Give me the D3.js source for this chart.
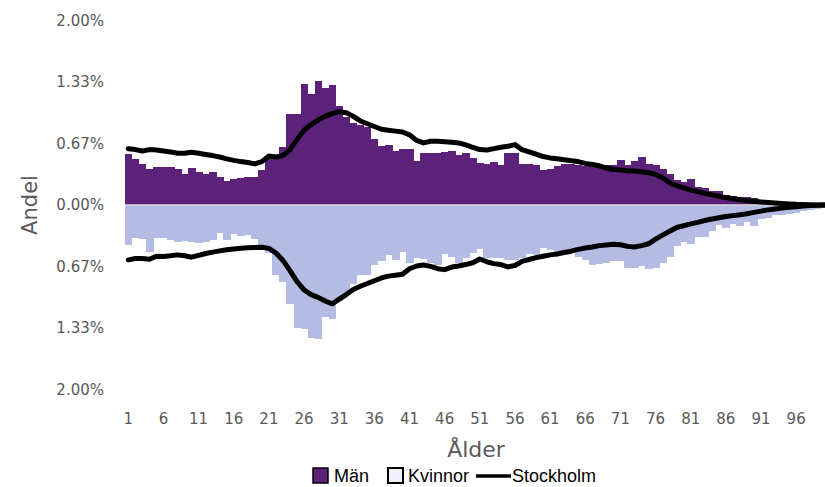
<!DOCTYPE html>
<html>
<head>
<meta charset="utf-8">
<script src="https://cdn.jsdelivr.net/npm/d3@7"></script>
<style>
  body { margin: 0; background: #fff; }
  svg { display: block; }
  .tick text { fill: #595959; font-family: "DejaVu Sans", sans-serif; font-size: 15px; }
</style>
</head>
<body>
<div id="chart"></div>
<script>
// ages 1..100 (categories)
const ages = d3.range(1, 101);
const xTickLabels = [1, 6, 11, 16, 21, 26, 31, 36, 41, 46, 51, 56, 61, 66, 71, 76, 81, 86, 91, 96];
const yTickValues = [-2, -4 / 3, -2 / 3, 0, 2 / 3, 4 / 3, 2];

// share in % per age, the area (bars)
const man = [
  0.547, 0.494, 0.44, 0.387, 0.415, 0.415, 0.41, 0.387, 0.333, 0.397,
  0.358, 0.333, 0.36, 0.305, 0.262, 0.28, 0.287, 0.298, 0.305, 0.376,
  0.53, 0.53, 0.625, 0.986, 0.99, 1.313, 1.2, 1.339, 1.27, 1.303,
  1.075, 0.95, 0.886, 0.87, 0.85, 0.719, 0.636, 0.654, 0.583, 0.601,
  0.601, 0.476, 0.558, 0.565, 0.565, 0.572, 0.583, 0.54, 0.558, 0.505,
  0.458, 0.447, 0.465, 0.433, 0.565, 0.558, 0.44, 0.44, 0.433, 0.38,
  0.387, 0.422, 0.44, 0.447, 0.433, 0.422, 0.43, 0.422, 0.433, 0.433,
  0.483, 0.43, 0.476, 0.519, 0.447, 0.433, 0.387, 0.333, 0.27, 0.244,
  0.28, 0.198, 0.18, 0.155, 0.148, 0.112, 0.102, 0.083, 0.09, 0.073,
  0.056, 0.045, 0.035, 0.028, 0.02, 0.014, 0.01, 0.006, 0.004, 0.003
];
const kvinna = [
  0.433, 0.362, 0.372, 0.511, 0.362, 0.362, 0.38, 0.398, 0.387, 0.398,
  0.408, 0.398, 0.38, 0.308, 0.38, 0.319, 0.333, 0.326, 0.372, 0.43,
  0.522, 0.754, 0.832, 1.075, 1.33, 1.342, 1.438, 1.449, 1.21, 1.235,
  1.04, 0.96, 0.854, 0.754, 0.754, 0.654, 0.611, 0.54, 0.594, 0.504,
  0.629, 0.569, 0.583, 0.629, 0.647, 0.533, 0.558, 0.629, 0.576, 0.522,
  0.476, 0.569, 0.576, 0.576, 0.594, 0.594, 0.576, 0.533, 0.54, 0.462,
  0.487, 0.504, 0.511, 0.511, 0.558, 0.594, 0.647, 0.64, 0.63, 0.601,
  0.61, 0.682, 0.682, 0.66, 0.693, 0.682, 0.629, 0.558, 0.444, 0.40,
  0.422, 0.344, 0.344, 0.28, 0.219, 0.244, 0.201, 0.23, 0.184, 0.23,
  0.148, 0.14, 0.112, 0.105, 0.094, 0.085, 0.07, 0.05, 0.04, 0.03
];

// Stockholm reference (lines)
const sthlmMan = [
  0.61, 0.60, 0.585, 0.60, 0.595, 0.585, 0.575, 0.56, 0.56, 0.572,
  0.56, 0.547, 0.535, 0.52, 0.50, 0.483, 0.47, 0.46, 0.445, 0.47,
  0.53, 0.52, 0.535, 0.60, 0.71, 0.81, 0.87, 0.92, 0.96, 0.99,
  1.01, 1.0, 0.96, 0.91, 0.88, 0.85, 0.82, 0.81, 0.80, 0.79,
  0.76, 0.70, 0.672, 0.69, 0.69, 0.685, 0.68, 0.672, 0.65, 0.625,
  0.60, 0.595, 0.61, 0.625, 0.636, 0.654, 0.60, 0.575, 0.55, 0.525,
  0.51, 0.50, 0.49, 0.48, 0.47, 0.45, 0.44, 0.425, 0.40, 0.385,
  0.378, 0.372, 0.368, 0.36, 0.35, 0.33, 0.295, 0.24, 0.21, 0.185,
  0.163, 0.145, 0.125, 0.11, 0.095, 0.08, 0.068, 0.056, 0.047, 0.04,
  0.033, 0.027, 0.021, 0.016, 0.011, 0.007, 0.005, 0.003, 0.001, 0.0
];
const sthlmKvinna = [
  0.594, 0.58, 0.58, 0.587, 0.555, 0.558, 0.55, 0.54, 0.55, 0.565,
  0.545, 0.525, 0.51, 0.497, 0.485, 0.476, 0.468, 0.462, 0.46, 0.458,
  0.47, 0.52, 0.60, 0.71, 0.83, 0.92, 0.97, 1.0, 1.04, 1.07,
  1.02, 0.97, 0.915, 0.88, 0.85, 0.82, 0.79, 0.77, 0.76, 0.75,
  0.69, 0.66, 0.65, 0.665, 0.69, 0.70, 0.672, 0.66, 0.645, 0.625,
  0.585, 0.615, 0.635, 0.645, 0.67, 0.655, 0.61, 0.59, 0.57, 0.555,
  0.54, 0.53, 0.515, 0.50, 0.48, 0.465, 0.455, 0.44, 0.432, 0.426,
  0.43, 0.448, 0.455, 0.44, 0.42, 0.37, 0.326, 0.285, 0.244, 0.225,
  0.205, 0.188, 0.168, 0.152, 0.138, 0.125, 0.115, 0.106, 0.095, 0.08,
  0.066, 0.053, 0.043, 0.034, 0.025, 0.018, 0.012, 0.006, 0.003, 0.0
];

const width = 825;
const height = 487;
const manColor = "#5C2279";
const kvinnaColor = "#B4BCE3";

const svg = d3.select("#chart").append("svg")
    .attr("width", width)
    .attr("height", height);

const xScale = d3.scaleBand()
    .domain(ages)
    .range([124.8, 827.8])
    .padding(0);
const yScale = d3.scaleLinear()
    .domain([-2, 2])
    .range([389.7, 20.3]);

// bars: men above zero, women below
svg.append("g")
    .attr("shape-rendering", "crispEdges")
    .selectAll("rect")
    .data(man)
    .join("rect")
    .attr("x", (d, i) => xScale(ages[i]))
    .attr("width", xScale.bandwidth() + 0.6)
    .attr("y", d => yScale(d))
    .attr("height", d => yScale(0) - yScale(d))
    .attr("fill", manColor);

svg.append("g")
    .attr("shape-rendering", "crispEdges")
    .selectAll("rect")
    .data(kvinna)
    .join("rect")
    .attr("x", (d, i) => xScale(ages[i]))
    .attr("width", xScale.bandwidth() + 0.6)
    .attr("y", yScale(0))
    .attr("height", d => yScale(-d) - yScale(0))
    .attr("fill", kvinnaColor);

// zero line
svg.append("line")
    .attr("x1", xScale.range()[0])
    .attr("x2", width)
    .attr("y1", yScale(0))
    .attr("y2", yScale(0))
    .attr("stroke", "#d9d9d9")
    .attr("stroke-width", 1.5);

// Stockholm lines
const line = d3.line()
    .x((d, i) => xScale(ages[i]) + xScale.bandwidth() / 2)
    .y(d => yScale(d));

svg.append("path")
    .datum(sthlmMan)
    .attr("d", line)
    .attr("fill", "none")
    .attr("stroke", "#000")
    .attr("stroke-width", 5)
    .attr("stroke-linejoin", "round")
    .attr("stroke-linecap", "round");

svg.append("path")
    .datum(sthlmKvinna.map(v => -v))
    .attr("d", line)
    .attr("fill", "none")
    .attr("stroke", "#000")
    .attr("stroke-width", 5)
    .attr("stroke-linejoin", "round")
    .attr("stroke-linecap", "round");

// axes
const yAxis = d3.axisLeft(yScale)
    .tickValues(yTickValues)
    .tickSize(0)
    .tickPadding(4)
    .tickFormat(d => Math.abs(d).toFixed(2) + "%");
svg.append("g")
    .attr("transform", "translate(108,0)")
    .call(yAxis)
    .call(g => g.select(".domain").remove());

const xAxis = d3.axisBottom(xScale)
    .tickValues(xTickLabels)
    .tickSize(0)
    .tickPadding(4);
svg.append("g")
    .attr("transform", "translate(0,409)")
    .call(xAxis)
    .call(g => g.select(".domain").remove());

// axis titles
svg.append("text")
    .attr("transform", "translate(37,205) rotate(-90)")
    .attr("text-anchor", "middle")
    .attr("font-family", "DejaVu Sans, sans-serif")
    .attr("font-size", "21px")
    .attr("fill", "#595959")
    .text("Andel");

svg.append("text")
    .attr("x", 476)
    .attr("y", 457)
    .attr("text-anchor", "middle")
    .attr("font-family", "DejaVu Sans, sans-serif")
    .attr("font-size", "22px")
    .attr("fill", "#595959")
    .text("Ålder");

// legend
const legend = svg.append("g")
    .attr("font-family", "Liberation Sans, Arial, sans-serif")
    .attr("font-size", "18px")
    .attr("fill", "#000");
const legY = 476;
let lx = 313;
legend.append("rect")
    .attr("x", lx).attr("y", legY - 8).attr("width", 15).attr("height", 15)
    .attr("fill", manColor).attr("stroke", "#000").attr("stroke-width", 1.5);
lx += 21;
let t = legend.append("text").attr("x", lx).attr("y", legY + 6).text("Män");
lx += t.node().getComputedTextLength() + 19;
legend.append("rect")
    .attr("x", lx).attr("y", legY - 8).attr("width", 15).attr("height", 15)
    .attr("fill", "#f3eefa").attr("stroke", "#000").attr("stroke-width", 2);
lx += 20;
t = legend.append("text").attr("x", lx).attr("y", legY + 6).text("Kvinnor");
lx += t.node().getComputedTextLength() + 7;
legend.append("line")
    .attr("x1", lx).attr("x2", lx + 35)
    .attr("y1", legY).attr("y2", legY)
    .attr("stroke", "#000").attr("stroke-width", 3.5);
lx += 36;
legend.append("text").attr("x", lx).attr("y", legY + 6).text("Stockholm");
</script>
</body>
</html>
